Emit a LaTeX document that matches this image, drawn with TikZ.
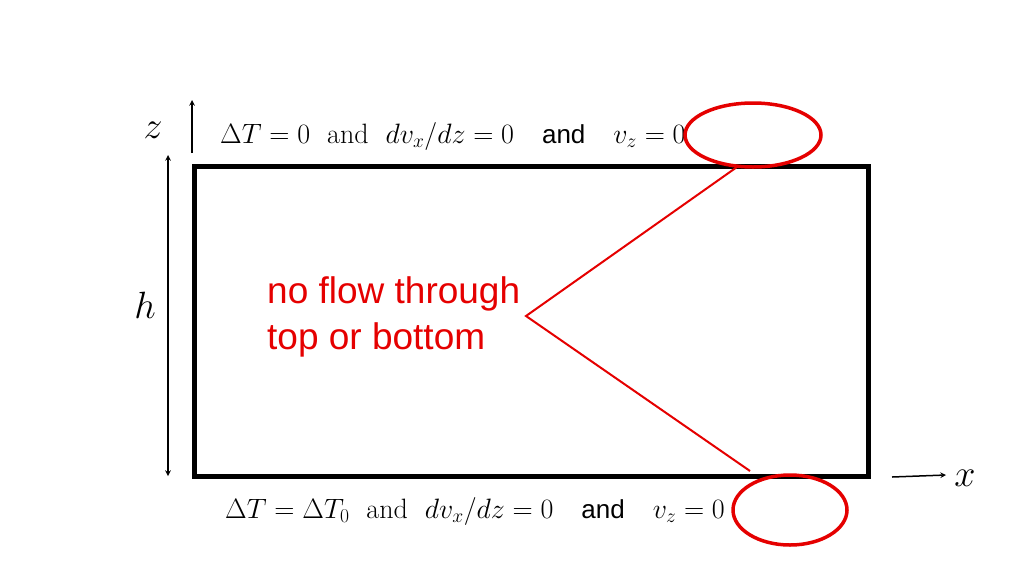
\RequirePackage{fix-cm}
\documentclass[tikz,border=0pt]{standalone}
\usepackage{amsmath}
\usepackage{fontspec}
\newfontfamily\sans{Liberation Sans}
\begin{document}
\begin{tikzpicture}[x=1pt,y=-1pt,
  lbl/.style={inner sep=0pt,anchor=base west,font=\fontsize{28}{32}\selectfont},
  redline/.style={red!90!black,line width=2pt},
  arr/.style={line width=1.5pt,-stealth}]
\useasboundingbox (0,0) rectangle (1024,576);
\node[draw,line width=5pt,minimum width=674pt,minimum height=310pt,inner sep=0pt,anchor=north west] (box) at (192,164) {};
\coordinate (z0) at (192,153); \coordinate (z1) at (192,100);
\draw[arr] (z0) -- (z1);
\node[font=\fontsize{38}{44}\selectfont] (zl) at (153,130) {$z$};
\coordinate (h0) at (168,155); \coordinate (h1) at (168,476);
\draw[line width=1.5pt,stealth-stealth] (h0) -- (h1);
\node[font=\fontsize{38}{44}\selectfont] (hl) at (145,305) {$h$};
\coordinate (x0) at (892,477); \coordinate (x1) at (946,475);
\draw[arr] (x0) -- (x1);
\node[font=\fontsize{38}{44}\selectfont] (xl) at (965,478) {$x$};
\node[lbl] (top) at (220,143) {$\Delta T=0$ \text{ and } $dv_x/dz=0$\quad{\sans\fontsize{26}{30}\selectfont and}\quad $v_z=0$};
\node[lbl] (bot) at (225,518) {$\Delta T=\Delta T_0$ \text{ and } $dv_x/dz=0$\quad{\sans\fontsize{26}{30}\selectfont and}\quad $v_z=0$};
\draw[draw=red!90!black,line width=3.5pt] (753,135) ellipse [x radius=68pt,y radius=32pt];
\draw[draw=red!90!black,line width=3.5pt] (790,510) ellipse [x radius=57pt,y radius=35pt];
\node[anchor=north west,align=left,text=red!90!black,font=\sans\fontsize{37}{46}\selectfont,inner sep=0pt] (note) at (267,276) {no flow through\\top or bottom};
\coordinate (p) at (526,316); \coordinate (pt) at (737,167); \coordinate (pb) at (750,471);
\draw[redline] (pt) -- (p) -- (pb);
\end{tikzpicture}
\end{document}
